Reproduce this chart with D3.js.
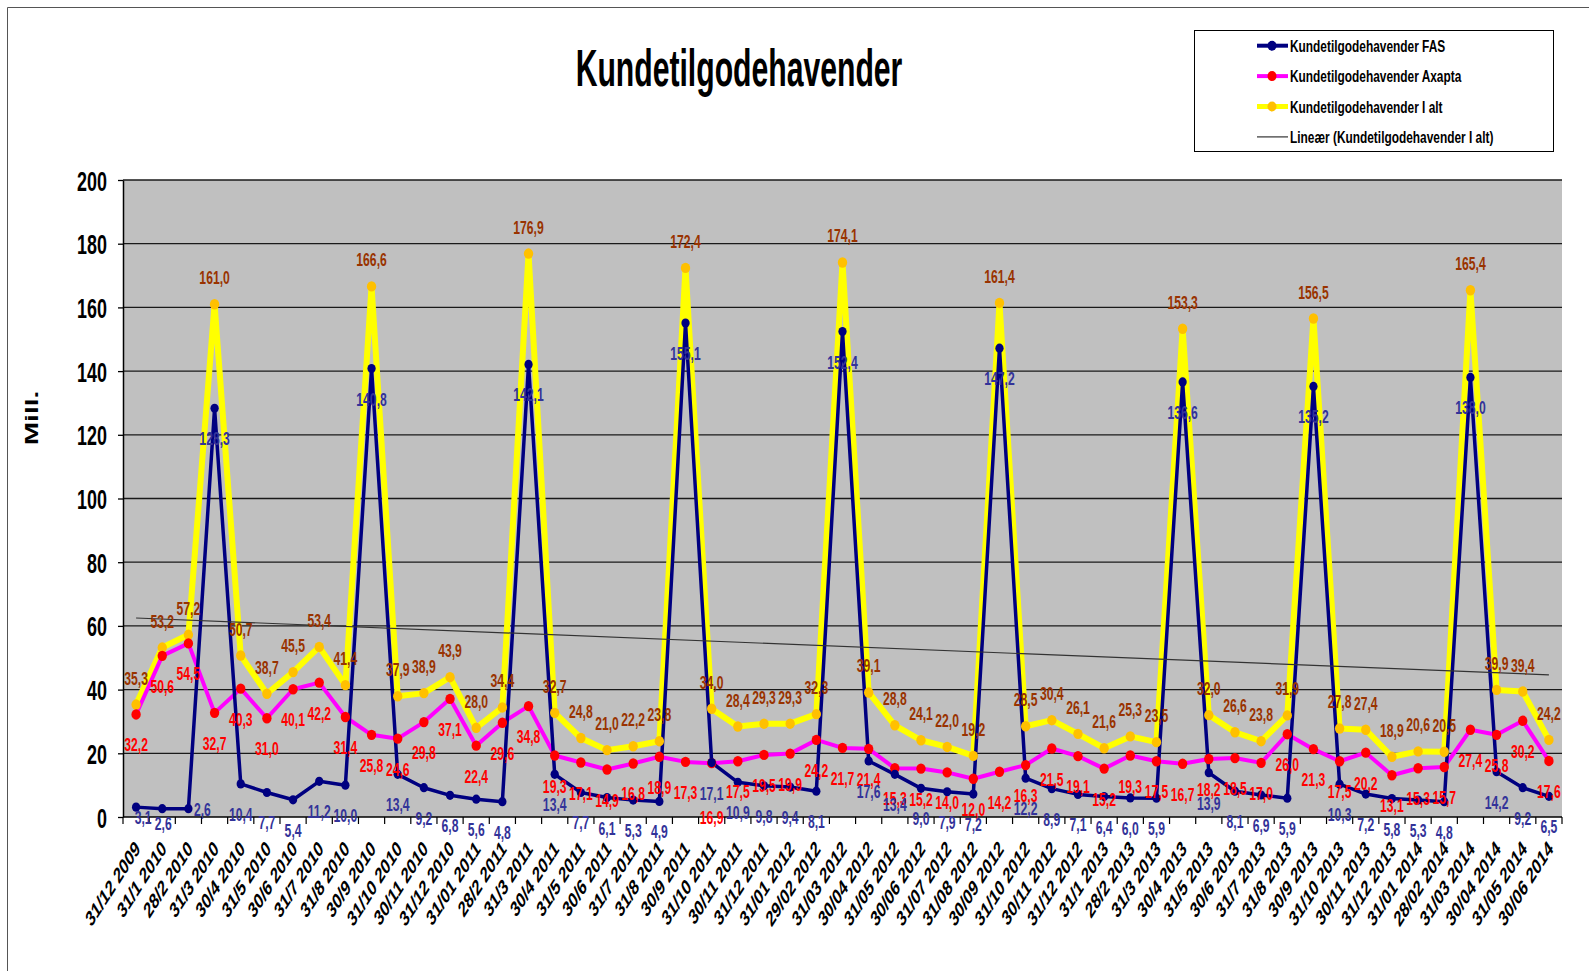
<!DOCTYPE html>
<html>
<head>
<meta charset="utf-8">
<script src="https://cdn.jsdelivr.net/npm/d3@7"></script>
<style>
  html, body { margin: 0; padding: 0; background: #fff; }
  svg { display: block; font-family: "Liberation Sans", Arial, sans-serif; font-weight: bold; }
</style>
</head>
<body>
<svg id="chart" width="1589" height="971"></svg>
<script>
// ---- data ----
const categories = [
  '31/12 2009', '31/1 2010', '28/2 2010', '31/3 2010', '30/4 2010', '31/5 2010', '30/6 2010',
  '31/7 2010', '31/8 2010', '30/9 2010', '31/10 2010', '30/11 2010', '31/12 2010', '31/01 2011',
  '28/2 2011', '31/3 2011', '30/4 2011', '31/5 2011', '30/6 2011', '31/7 2011', '31/8 2011',
  '30/9 2011', '31/10 2011', '30/11 2011', '31/12 2011', '31/01 2012', '29/02 2012', '31/03 2012',
  '30/04 2012', '31/05 2012', '30/06 2012', '31/07 2012', '31/08 2012', '30/09 2012', '31/10 2012',
  '30/11 2012', '31/12 2012', '31/1 2013', '28/2 2013', '31/3 2013', '30/4 2013', '31/5 2013',
  '30/6 2013', '31/7 2013', '31/8 2013', '30/9 2013', '31/10 2013', '30/11 2013', '31/12 2013',
  '31/01 2014', '28/02 2014', '31/03 2014', '30/04 2014', '31/05 2014', '30/06 2014'
];

const fas = [
  3.1, 2.6, 2.6, 128.3, 10.4, 7.7, 5.4, 11.2, 10.0, 140.8, 13.4, 9.2, 6.8, 5.6, 4.8,
  142.1, 13.4, 7.7, 6.1, 5.3, 4.9, 155.1, 17.1, 10.9, 9.8, 9.4, 8.1, 152.4, 17.6, 13.4,
  9.0, 7.9, 7.2, 147.2, 12.2, 8.9, 7.1, 6.4, 6.0, 5.9, 136.6, 13.9, 8.1, 6.9, 5.9,
  135.2, 10.3, 7.2, 5.8, 5.3, 4.8, 138.0, 14.2, 9.2, 6.5
];

const axapta = [
  32.2, 50.6, 54.5, 32.7, 40.3, 31.0, 40.1, 42.2, 31.4, 25.8, 24.6, 29.8, 37.1, 22.4, 29.6,
  34.8, 19.3, 17.1, 14.9, 16.8, 18.9, 17.3, 16.9, 17.5, 19.5, 19.9, 24.2, 21.7, 21.4, 15.3,
  15.2, 14.0, 12.0, 14.2, 16.3, 21.5, 19.1, 15.2, 19.3, 17.5, 16.7, 18.2, 18.5, 17.0, 26.0,
  21.3, 17.5, 20.2, 13.1, 15.3, 15.7, 27.4, 25.8, 30.2, 17.6
];

const ialt = [
  35.3, 53.2, 57.2, 161.0, 50.7, 38.7, 45.5, 53.4, 41.4, 166.6, 37.9, 38.9, 43.9, 28.0, 34.4,
  176.9, 32.7, 24.8, 21.0, 22.2, 23.8, 172.4, 34.0, 28.4, 29.3, 29.3, 32.3, 174.1, 39.1, 28.8,
  24.1, 22.0, 19.2, 161.4, 28.5, 30.4, 26.1, 21.6, 25.3, 23.5, 153.3, 32.0, 26.6, 23.8, 31.9,
  156.5, 27.8, 27.4, 18.9, 20.6, 20.5, 165.4, 39.9, 39.4, 24.2
];

const yTicks = [0, 20, 40, 60, 80, 100, 120, 140, 160, 180, 200];

const legendNames = [
  'Kundetilgodehavender FAS',
  'Kundetilgodehavender Axapta',
  'Kundetilgodehavender I alt',
  'Lineær (Kundetilgodehavender I alt)'
];

// ---- layout ----
const SX = 0.64;                // text in the reference is horizontally condensed
const P = { left: 123, right: 1562, top: 180, bottom: 817 };
const fmtNum = v => v.toFixed(1).replace('.', ',');

const svg = d3.select('#chart');

// outer chart frame (only top/left are visible in the reference)
svg.append('path').attr('d', 'M7.5,971 V7.5 H1589').attr('fill', 'none')
  .attr('stroke', '#555').attr('stroke-width', 1);

const x = d3.scaleBand().domain(categories).range([P.left, P.right]);
const cx = c => x(c) + x.bandwidth() / 2;
const y = d3.scaleLinear().domain([0, 200]).range([P.bottom, P.top]);

// plot area
svg.append('rect').attr('x', P.left).attr('y', P.top)
  .attr('width', P.right - P.left).attr('height', P.bottom - P.top).attr('fill', '#c0c0c0');

// gridlines
svg.append('g').selectAll('line').data(yTicks.filter(d => d > 0)).join('line')
  .attr('x1', P.left).attr('x2', P.right)
  .attr('y1', d => y(d)).attr('y2', d => y(d))
  .attr('stroke', '#1a1a1a').attr('stroke-width', 1.3);

// y axis
const gy = svg.append('g').attr('transform', `translate(${P.left},0)`)
  .call(d3.axisLeft(y).tickValues(yTicks).tickSize(5).tickSizeOuter(0).tickFormat(d3.format('d')));
gy.select('.domain').attr('stroke', '#000').attr('stroke-width', 1.5);
gy.selectAll('.tick line').attr('stroke', '#000').attr('stroke-width', 1.3);
gy.selectAll('.tick text')
  .attr('x', null).attr('dy', null)
  .attr('transform', `translate(-16,10) scale(${SX},1)`)
  .attr('fill', '#000').style('font-size', '28px');
gy.attr('font-family', null).attr('font-size', null);

// x axis: line, boundary ticks, rotated labels
svg.append('line').attr('x1', P.left).attr('x2', P.right)
  .attr('y1', P.bottom).attr('y2', P.bottom).attr('stroke', '#000').attr('stroke-width', 1.5);
svg.append('g').selectAll('line').data(categories.concat([null])).join('line')
  .attr('x1', d => d === null ? P.right : x(d)).attr('x2', d => d === null ? P.right : x(d))
  .attr('y1', P.bottom).attr('y2', P.bottom + 7)
  .attr('stroke', '#000').attr('stroke-width', 1.2);

const gx = svg.append('g').attr('transform', `translate(0,${P.bottom})`)
  .call(d3.axisBottom(x).tickSize(0).tickSizeOuter(0));
gx.select('.domain').remove();
gx.attr('font-family', null).attr('font-size', null);
gx.selectAll('.tick text')
  .attr('y', null).attr('dy', null)
  .attr('text-anchor', 'end')
  .attr('transform', `translate(5,33) scale(${SX},1) rotate(-45)`)
  .attr('fill', '#000').style('font-size', '22px');

// y axis title
svg.append('text')
  .attr('transform', `translate(38,418) scale(${SX},1) rotate(-90)`)
  .attr('text-anchor', 'middle').style('font-size', '28px').text('Mill.');

// chart title
svg.append('text')
  .attr('transform', `translate(739,86) scale(0.58,1)`)
  .attr('text-anchor', 'middle').style('font-size', '52px').text('Kundetilgodehavender');

// linear trend of I alt (least squares, as Excel's trendline)
const idx = d3.range(ialt.length);
const mx = d3.mean(idx), my = d3.mean(ialt);
const slope = d3.sum(idx, i => (i - mx) * (ialt[i] - my)) / d3.sum(idx, i => (i - mx) ** 2);
const icept = my - slope * mx;

// series
const series = [
  { name: 'ialt', values: ialt, line: '#ffff00', width: 6, marker: '#ffc000', r: 5.2, label: '#993300' },
  { name: 'axapta', values: axapta, line: '#ff00ff', width: 4, marker: '#ff0000', r: 5.2, label: '#ff0000' },
  { name: 'fas', values: fas, line: '#000080', width: 3.5, marker: '#000080', r: 4.6, label: '#333399' }
];

const lineGen = d3.line().x((d, i) => cx(categories[i])).y(d => y(d));

series.forEach(s => {
  svg.append('path').attr('d', lineGen(s.values)).attr('fill', 'none')
    .attr('stroke', s.line).attr('stroke-width', s.width).attr('stroke-linejoin', 'round');
});

svg.append('line')
  .attr('x1', cx(categories[0])).attr('y1', y(icept))
  .attr('x2', cx(categories[categories.length - 1])).attr('y2', y(icept + slope * (ialt.length - 1)))
  .attr('stroke', '#333').attr('stroke-width', 1.2);

series.forEach(s => {
  svg.append('g').selectAll('ellipse').data(s.values).join('ellipse')
    .attr('cx', (d, i) => cx(categories[i])).attr('cy', d => y(d))
    .attr('rx', s.r * 0.9).attr('ry', s.r).attr('fill', s.marker);
});

// data labels: I alt above, the other two below; a few nudged like the reference
const nudge = {
  fas: { 0: [7, -20], 1: [1, -16], 2: [14, -30] },
  axapta: { 22: [0, 24] }
};
series.forEach(s => {
  const above = s.name === 'ialt';
  svg.append('g').selectAll('text').data(s.values).join('text')
    .attr('transform', (d, i) => {
      const n = (nudge[s.name] || {})[i] || [0, 0];
      const tx = cx(categories[i]) + n[0];
      const ty = y(d) + (above ? -20 : 37) + n[1];
      return `translate(${tx},${ty}) scale(${SX},1)`;
    })
    .attr('text-anchor', 'middle').attr('fill', s.label)
    .style('font-size', '19px').text(d => fmtNum(d));
});

// legend
const lg = svg.append('g');
lg.append('rect').attr('x', 1194.5).attr('y', 30.5).attr('width', 359).attr('height', 121)
  .attr('fill', '#fff').attr('stroke', '#000').attr('stroke-width', 1);
const legendRows = [
  { line: '#000080', width: 4, marker: '#000080' },
  { line: '#ff00ff', width: 4, marker: '#ff0000' },
  { line: '#ffff00', width: 5, marker: '#ffc000' },
  { line: '#333', width: 1.2, marker: null }
];
legendRows.forEach((r, i) => {
  const ly = 45.7 + i * 30.4;
  lg.append('line').attr('x1', 1257).attr('x2', 1288).attr('y1', ly).attr('y2', ly)
    .attr('stroke', r.line).attr('stroke-width', r.width);
  if (r.marker) lg.append('ellipse').attr('cx', 1272).attr('cy', ly).attr('rx', 4.5).attr('ry', 5).attr('fill', r.marker);
  lg.append('text').attr('transform', `translate(1290,${ly + 6}) scale(0.7,1)`)
    .style('font-size', '17px').attr('fill', '#000').text(legendNames[i]);
});
</script>
</body>
</html>
